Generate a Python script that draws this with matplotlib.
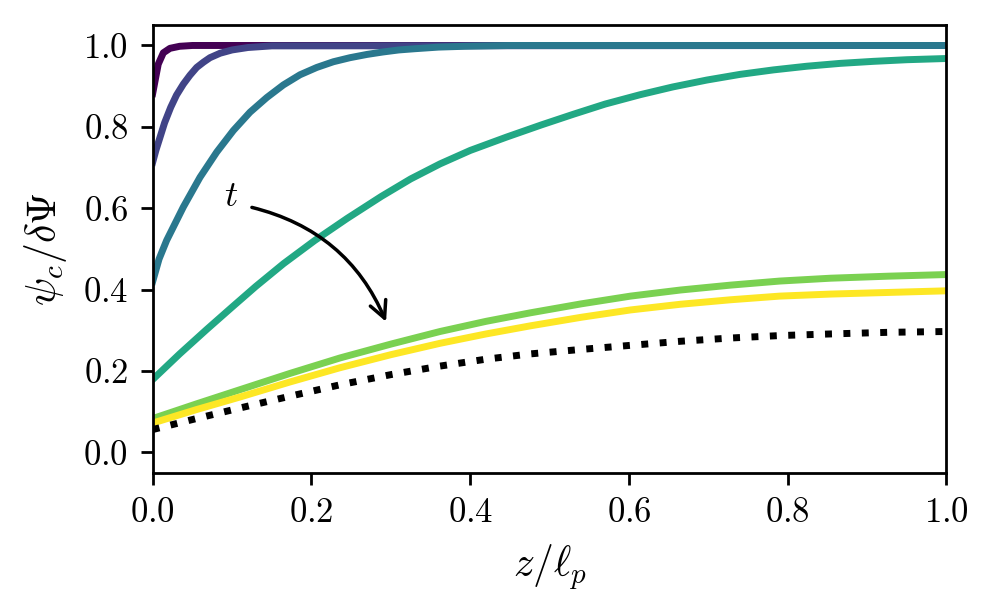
import matplotlib
matplotlib.use("Agg")
import matplotlib.pyplot as plt

plt.rcParams['font.family'] = 'serif'
plt.rcParams['font.serif'] = ['cmr10']
plt.rcParams['mathtext.fontset'] = 'cm'
plt.rcParams['axes.formatter.use_mathtext'] = True
plt.rcParams['axes.unicode_minus'] = False

# ---- data ----
z1 = [0.0, 0.003, 0.007, 0.0134, 0.0218, 0.034, 0.05, 1.0]
psi1 = [0.882, 0.913, 0.954, 0.982, 0.993, 0.998, 1.0, 1.0]

z2 = [0.0, 0.004, 0.0079, 0.015, 0.0227, 0.030, 0.0386, 0.047, 0.0554, 0.064,
      0.0722, 0.085, 0.10, 0.12, 0.15, 1.0]
psi2 = [0.713, 0.742, 0.766, 0.81, 0.848, 0.878, 0.905, 0.927, 0.946, 0.959,
        0.970, 0.981, 0.989, 0.995, 0.999, 1.0]

z3 = [0.0, 0.008, 0.0176, 0.0386, 0.0596, 0.0807, 0.1016, 0.1226, 0.1437, 0.1646,
      0.1856, 0.2067, 0.2276, 0.2486, 0.27, 0.29, 0.31, 0.33, 0.36, 0.393, 0.45, 1.0]
psi3 = [0.42, 0.475, 0.521, 0.603, 0.676, 0.738, 0.791, 0.836, 0.872, 0.903,
        0.928, 0.946, 0.960, 0.970, 0.978, 0.984, 0.989, 0.992, 0.996, 0.998, 1.0, 1.0]

z4 = [0.0, 0.034, 0.068, 0.10, 0.13, 0.165, 0.204, 0.245, 0.288, 0.325, 0.362, 0.40,
      0.446, 0.49, 0.53, 0.57, 0.614, 0.655, 0.698, 0.74, 0.782, 0.824, 0.866, 0.908,
      0.95, 1.0]
psi4 = [0.179, 0.242, 0.302, 0.357, 0.408, 0.464, 0.5205, 0.575, 0.629, 0.672, 0.709,
        0.742, 0.775, 0.805, 0.831, 0.856, 0.879, 0.898, 0.915, 0.929, 0.940, 0.949,
        0.956, 0.961, 0.965, 0.968]

z_low = [0.0, 0.055, 0.11, 0.173, 0.236, 0.30, 0.362, 0.42, 0.476, 0.54, 0.602,
         0.665, 0.728, 0.79, 0.854, 0.927, 1.0]
psi5 = [0.083, 0.119, 0.154, 0.194, 0.232, 0.266, 0.297, 0.322, 0.343, 0.365, 0.384,
        0.399, 0.411, 0.421, 0.428, 0.433, 0.437]
psi6 = [0.072, 0.105, 0.136, 0.173, 0.208, 0.240, 0.268, 0.291, 0.311, 0.332, 0.350,
        0.364, 0.375, 0.384, 0.389, 0.393, 0.397]
psi_ss = [0.056, 0.083, 0.109, 0.138, 0.166, 0.191, 0.212, 0.229, 0.242, 0.253, 0.263,
          0.273, 0.281, 0.287, 0.291, 0.295, 0.297]

series = [(z1, psi1), (z2, psi2), (z3, psi3), (z4, psi4), (z_low, psi5), (z_low, psi6)]
color_fracs = [0.0, 0.2, 0.4, 0.6, 0.8, 1.0]

xticks = [0.0, 0.2, 0.4, 0.6, 0.8, 1.0]
yticks = [0.0, 0.2, 0.4, 0.6, 0.8, 1.0]

arrow_start = (0.125, 0.602)
arrow_end = (0.294, 0.321)
t_pos = (0.0993, 0.627)

# ---- figure ----
fig = plt.figure(figsize=(3.984, 2.452), dpi=250)
ax = fig.add_axes([0.1533, 0.2289, 0.7970, 0.7301])

viridis = matplotlib.colormaps['viridis']
for (zz, pp), f in zip(series, color_fracs):
    ax.plot(zz, pp, color=viridis(f), lw=2)
ax.plot(z_low, psi_ss, color='k', lw=2, ls=':')

ax.annotate('', xy=arrow_end, xytext=arrow_start,
            arrowprops=dict(arrowstyle='->', connectionstyle='arc3,rad=-0.25',
                            lw=1.0, color='k', shrinkA=0, shrinkB=0,
                            mutation_scale=12))
ax.text(t_pos[0], t_pos[1], r'$t$', fontsize=10.5, ha='center', va='center')

ax.set_xlim(0, 1)
ax.set_ylim(-0.05, 1.05)
ax.set_xticks(xticks)
ax.set_yticks(yticks)
ax.tick_params(labelsize=10)
ax.set_xlabel(r'$z/\ell_p$', fontsize=12)
ax.set_ylabel(r'$\psi_c/\delta\Psi$', fontsize=12)

fig.savefig('out.png', dpi=250)
